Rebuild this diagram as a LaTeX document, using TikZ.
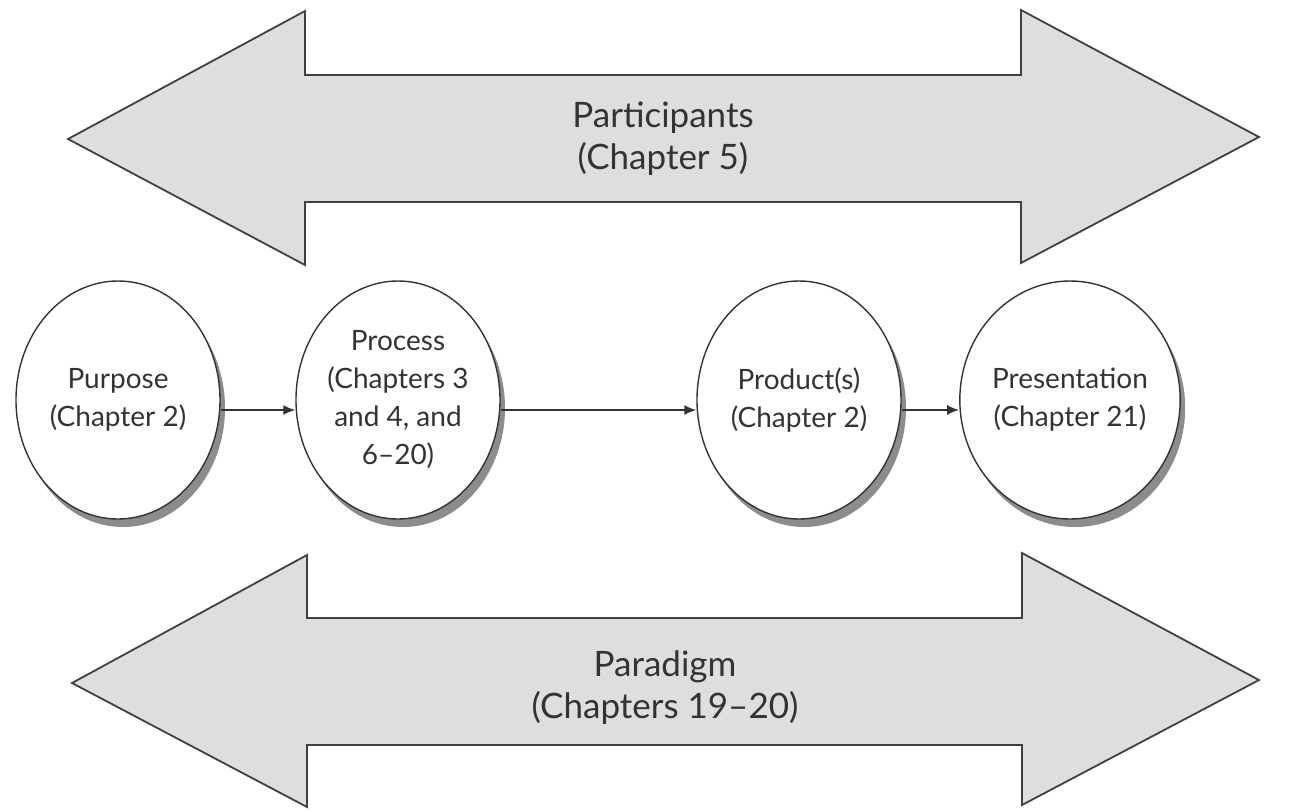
\documentclass[tikz,border=0pt]{standalone}
\usepackage{fontspec}
\setmainfont{Lato}
\usetikzlibrary{arrows.meta,shapes.geometric,shadows}
\begin{document}
\begin{tikzpicture}[x=0.5pt,y=-0.5pt,
  bigarrow/.style={fill=black!13, draw=black!75, line width=0.9pt, line join=miter},
  arrowlabel/.style={align=center, text=black!80, font=\fontsize{17.5}{21}\selectfont},
  circ/.style={ellipse, draw=black!80, line width=0.7pt, fill=white,
    minimum width=102pt, minimum height=119pt, inner sep=0pt,
    align=center, text=black!80, font=\fontsize{14}{19}\selectfont,
    drop shadow={shadow xshift=2.5pt, shadow yshift=-4pt, fill=black!45, opacity=1}},
  conn/.style={draw=black!80, line width=0.8pt, -{Latex[length=6pt,width=5pt]}}]
\useasboundingbox (0,0) rectangle (1303,810);
% top double arrow
\draw[bigarrow] (68,139) -- (305,11) -- (305,75) -- (1021,75) -- (1021,10) -- (1259,137)
  -- (1021,263) -- (1021,202) -- (305,202) -- (305,265) -- cycle;
\node[arrowlabel] (participants) at (663,139) {Participants\\(Chapter 5)};
% bottom double arrow
\draw[bigarrow] (72,683) -- (307,555) -- (307,618) -- (1022,618) -- (1022,553) -- (1259,680)
  -- (1022,805) -- (1022,745) -- (307,745) -- (307,807) -- cycle;
\node[arrowlabel] (paradigm) at (665,688) {Paradigm\\(Chapters 19–20)};
% circles
\node[circ] (purpose) at (118,400) {Purpose\\(Chapter 2)};
\node[circ] (process) at (398,400) {Process\\(Chapters 3\\and 4, and\\6–20)};
\node[circ] (product) at (799,400) {Product(s)\\(Chapter 2)};
\node[circ] (presentation) at (1070,400) {Presentation\\(Chapter 21)};
% connectors
\draw[conn] ([yshift=-5pt]purpose.east) -- ([yshift=-5pt]process.west);
\draw[conn] ([yshift=-5pt]process.east) -- ([yshift=-5pt]product.west);
\draw[conn] ([yshift=-5pt]product.east) -- ([yshift=-5pt]presentation.west);
\end{tikzpicture}
\end{document}
